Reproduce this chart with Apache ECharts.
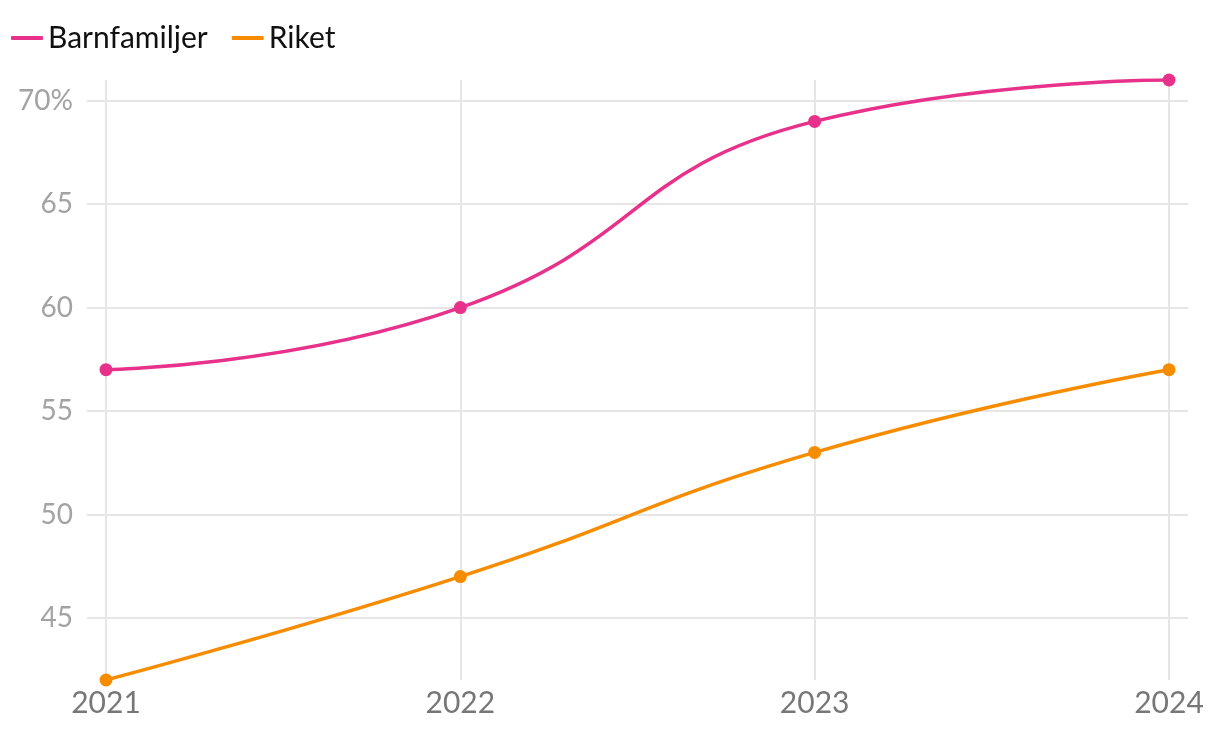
<!DOCTYPE html>
<html><head><meta charset="utf-8">
<script src="https://cdn.jsdelivr.net/npm/echarts@6/dist/echarts.min.js"></script>
<style>html,body{margin:0;padding:0;background:#fff}#c{width:1220px;height:734px}</style>
</head><body><div id="c"></div>
<script>
const years = ['2021','2022','2023','2024'];
const barnfamiljer = [57, 60, 69, 71];
const riket = [42, 47, 53, 57];
const yTicks = [45, 50, 55, 60, 65, 70];
const yMin = 42, yMax = 71;

const chart = echarts.init(document.getElementById('c'));
const font = 'Lato, "Noto Sans", sans-serif';
chart.setOption({
  animation: false,
  textStyle: { fontFamily: font },
  legend: {
    left: 6, top: 18, itemGap: 24, itemWidth: 32, itemHeight: 4, icon: 'roundRect',
    textStyle: { fontSize: 30, color: '#111', fontFamily: font },
    data: ['Barnfamiljer', 'Riket']
  },
  grid: [
    { left: 106, right: 51, top: 80, bottom: 54 },
    { left: 87, right: 32, top: 80, bottom: 54 }
  ],
  xAxis: [
    { type: 'category', data: years, boundaryGap: false, gridIndex: 0,
      axisLine: { show: false }, axisTick: { show: false },
      axisLabel: { color: '#777', fontSize: 30, margin: 8, fontFamily: font },
      splitLine: { show: true, lineStyle: { color: '#e6e6e6', width: 2 } } },
    { type: 'value', gridIndex: 1, min: 0, max: 1, show: false }
  ],
  yAxis: [
    { type: 'value', gridIndex: 0, min: yMin, max: yMax, show: false, splitLine: { show: false } },
    { type: 'value', gridIndex: 1, min: yMin, max: yMax, show: false, splitLine: { show: false } }
  ],
  series: [
    { name: 'grid', type: 'line', xAxisIndex: 1, yAxisIndex: 1, data: [], silent: true,
      markLine: {
        silent: true, symbol: 'none',
        lineStyle: { color: '#e6e6e6', width: 2, type: 'solid' },
        label: { show: true, position: 'start', distance: 14, color: '#a3a3a3', fontSize: 28, fontFamily: font,
          formatter: p => p.value === 70 ? '70%' : String(p.value) },
        data: yTicks.map(v => ({ yAxis: v }))
      }
    },
    { name: 'Barnfamiljer', type: 'line', data: barnfamiljer, smooth: 0.5,
      color: '#e8318a', symbol: 'circle', symbolSize: 13, lineStyle: { width: 3.5 }, z: 5 },
    { name: 'Riket', type: 'line', data: riket, smooth: 0.5,
      color: '#f78c00', symbol: 'circle', symbolSize: 13, lineStyle: { width: 3.5 }, z: 5 }
  ]
});
</script></body></html>
